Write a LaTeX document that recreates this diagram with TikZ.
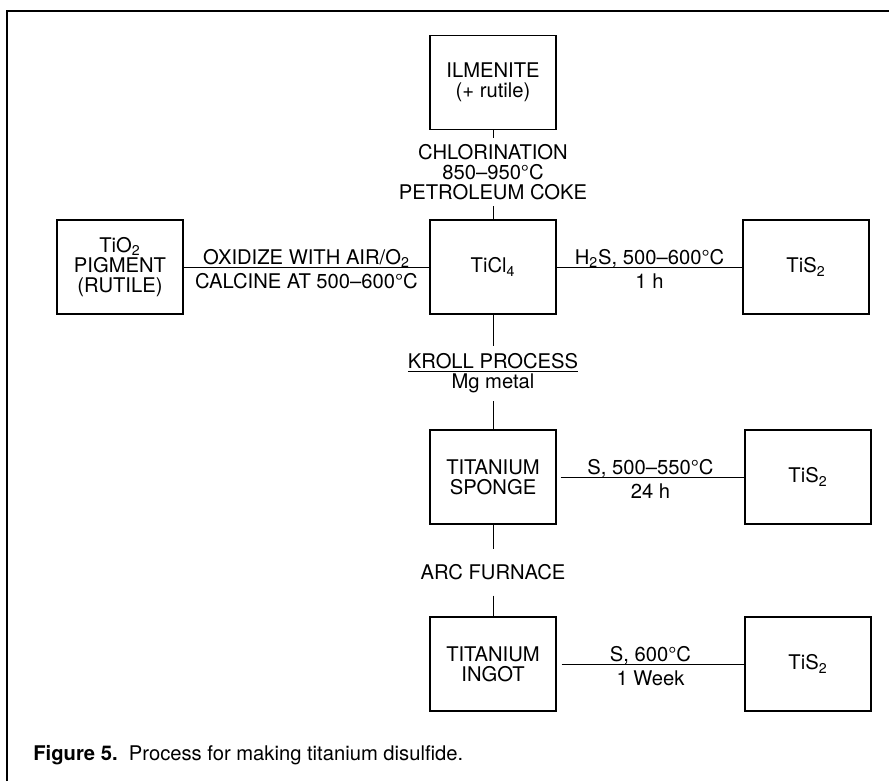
\documentclass[tikz,border=0pt]{standalone}
\usepackage{fontspec}
\setmainfont{TeX Gyre Heros}
\begin{document}
\begin{tikzpicture}[x=0.02cm, y=-0.02cm,
    font=\fontsize{11.5}{11.5}\selectfont,
    stepbox/.style={draw, line width=0.7pt, minimum width=2.52cm, minimum height=1.88cm, inner sep=0pt, align=center},
    link/.style={line width=0.5pt},
    steptext/.style={align=center, inner xsep=0pt},
    abv/.style={midway, anchor=base, yshift=0.06cm},
    blw/.style={midway, anchor=north, inner sep=0pt, yshift=-0.12cm}]
    % 边框
    \useasboundingbox (0,0) rectangle (889,781);
    \draw[line width=1.1pt] (7,781) -- (7,11) -- (889,11);
    % 方框
    \node[stepbox] (ilmenite) at (493,82.5) {ILMENITE\\(+ rutile)};
    \node[stepbox] (ticl) at (493,267) {TiCl\textsubscript{4}};
    \node[stepbox] (tio) at (120,267) {TiO\textsubscript{2}\\PIGMENT\\(RUTILE)};
    \node[stepbox] (tisA) at (806,267) {TiS\textsubscript{2}};
    \node[stepbox] (sponge) at (493,477) {TITANIUM\\SPONGE};
    \node[stepbox] (tisB) at (808,477) {TiS\textsubscript{2}};
    \node[stepbox] (ingot) at (493,664) {TITANIUM\\INGOT};
    \node[stepbox] (tisC) at (808,664) {TiS\textsubscript{2}};
    % 竖直方向的工序
    \node[steptext, inner ysep=0.12cm] (chlor) at (493,172) {CHLORINATION\\850–950°C\\PETROLEUM COKE};
    \node[steptext, inner ysep=0.15cm] (kroll) at (493,373.5) {\underline{KROLL PROCESS}\\Mg metal};
    \node[steptext, inner ysep=0.3cm] (arc) at (493,572.5) {ARC FURNACE};
    \draw[link] (ilmenite) -- (chlor) -- (ticl);
    \draw[link] (ticl) -- (kroll) -- (sponge);
    \draw[link] (sponge) -- (arc) -- (ingot);
    % 水平方向的工序
    \draw[link] (tio) -- (ticl) node[abv] {OXIDIZE WITH AIR/O\textsubscript{2}} node[blw] {CALCINE AT 500–600°C};
    \draw[link] (ticl) -- (tisA) node[abv] {H\textsubscript{2}S, 500–600°C} node[blw] {1 h};
    \draw[link, shorten <=0.08cm] (sponge) -- (tisB) node[abv] {S, 500–550°C} node[blw] {24 h};
    \draw[link, shorten <=0.1cm] (ingot) -- (tisC) node[abv] {S, 600°C} node[blw] {1 Week};
    % 图题
    \node[anchor=base west, inner sep=0pt] (caption) at (33,760) {\textbf{Figure 5.}\ \ Process for making titanium disulfide.};
\end{tikzpicture}
\end{document}
